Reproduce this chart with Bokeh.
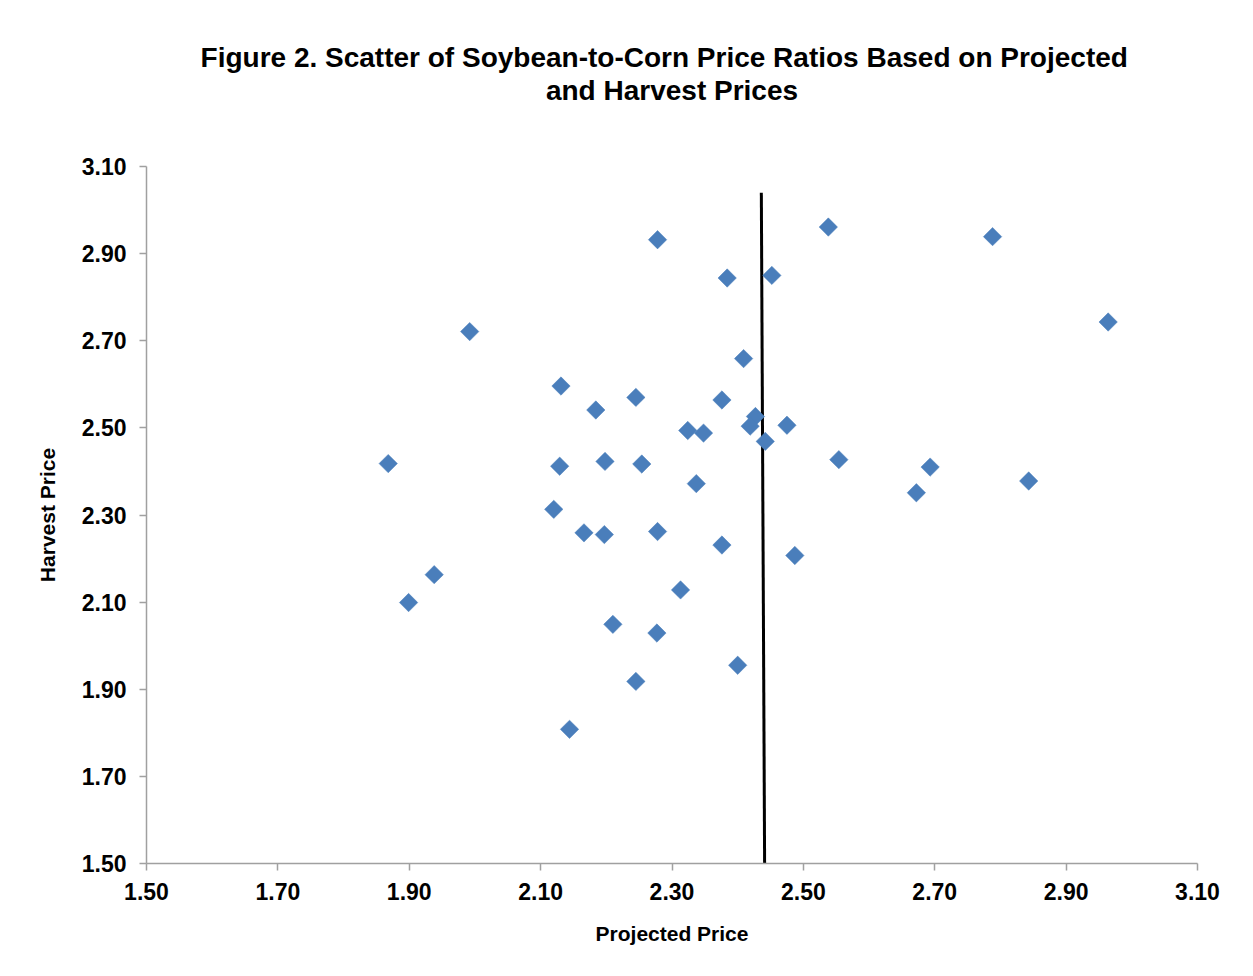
import numpy as np
from bokeh.plotting import figure
from bokeh.models import Range1d, FixedTicker, Title, PrintfTickFormatter
from bokeh.embed import file_html
from bokeh.resources import INLINE

# Data
projected = [1.868, 1.899, 1.938, 1.992, 2.131, 2.129, 2.184, 2.245, 2.278, 2.198,
             2.254, 2.120, 2.324, 2.348, 2.337, 2.376, 2.384, 2.409, 2.427, 2.419,
             2.442, 2.452, 2.475, 2.538, 2.554, 2.166, 2.197, 2.278, 2.376, 2.487,
             2.313, 2.210, 2.277, 2.400, 2.245, 2.144, 2.788, 2.964, 2.693, 2.672,
             2.843]
harvest = [2.418, 2.099, 2.163, 2.721, 2.596, 2.412, 2.541, 2.570, 2.932, 2.423,
           2.417, 2.313, 2.494, 2.488, 2.372, 2.564, 2.844, 2.659, 2.526, 2.504,
           2.469, 2.850, 2.506, 2.961, 2.427, 2.259, 2.255, 2.262, 2.231, 2.207,
           2.128, 2.049, 2.029, 1.955, 1.918, 1.808, 2.939, 2.743, 2.410, 2.351,
           2.378]
ref_line_x = [2.436, 2.441]
ref_line_y = [3.04, 1.50]
ticks = [1.50, 1.70, 1.90, 2.10, 2.30, 2.50, 2.70, 2.90, 3.10]
title_lines = ["Figure 2. Scatter of Soybean-to-Corn  Price Ratios  Based on Projected",
               "and Harvest Prices"]

FONT = "Liberation Sans"

p = figure(width=1245, height=968, output_backend="svg", toolbar_location=None,
           x_range=Range1d(1.5, 3.1), y_range=Range1d(1.5, 3.1),
           min_border_left=146, min_border_right=48, min_border_top=166,
           min_border_bottom=105)
p.background_fill_color = "white"
p.border_fill_color = "white"
p.outline_line_color = None
p.xgrid.visible = False
p.ygrid.visible = False

# spacer (blank) between frame and title, then lower line, then upper line
p.add_layout(Title(text=" ", align="center", text_font=FONT,
                   text_font_size="28px", text_font_style="bold",
                   standoff=28), "above")
p.add_layout(Title(text=title_lines[1], align="center",
                   text_font=FONT, text_font_size="28px", text_font_style="bold",
                   text_color="black", standoff=0), "above")
p.add_layout(Title(text=title_lines[0], align="center",
                   text_font=FONT, text_font_size="28px", text_font_style="bold",
                   text_color="black", standoff=0), "above")

for ax in (p.xaxis[0], p.yaxis[0]):
    ax.ticker = FixedTicker(ticks=ticks)
    ax.formatter = PrintfTickFormatter(format="%.2f")
    ax.axis_line_color = "#a0a0a0"
    ax.axis_line_width = 1.5
    ax.major_tick_line_color = "#a0a0a0"
    ax.major_tick_line_width = 1.5
    ax.major_tick_in = 0
    ax.major_tick_out = 7
    ax.minor_tick_line_color = None
    ax.major_label_text_font = FONT
    ax.major_label_text_font_size = "23px"
    ax.major_label_text_font_style = "bold"
    ax.major_label_text_color = "black"
    ax.axis_label_text_font = FONT
    ax.axis_label_text_font_size = "21px"
    ax.axis_label_text_font_style = "bold"
    ax.axis_label_text_color = "black"

p.xaxis.axis_label = "Projected Price"
p.yaxis.axis_label = "Harvest Price"
p.xaxis.major_label_standoff = 12
p.yaxis.major_label_standoff = 13
p.xaxis.axis_label_standoff = 19
p.yaxis.axis_label_standoff = 20

p.line(ref_line_x, ref_line_y, line_color="black", line_width=3)
p.scatter(projected, harvest, marker="square", angle=np.pi / 4, size=13,
          fill_color="#4a7ebb", line_color="#4a7ebb", line_width=0.5)

open("out.html", "w").write(file_html(p, INLINE))
